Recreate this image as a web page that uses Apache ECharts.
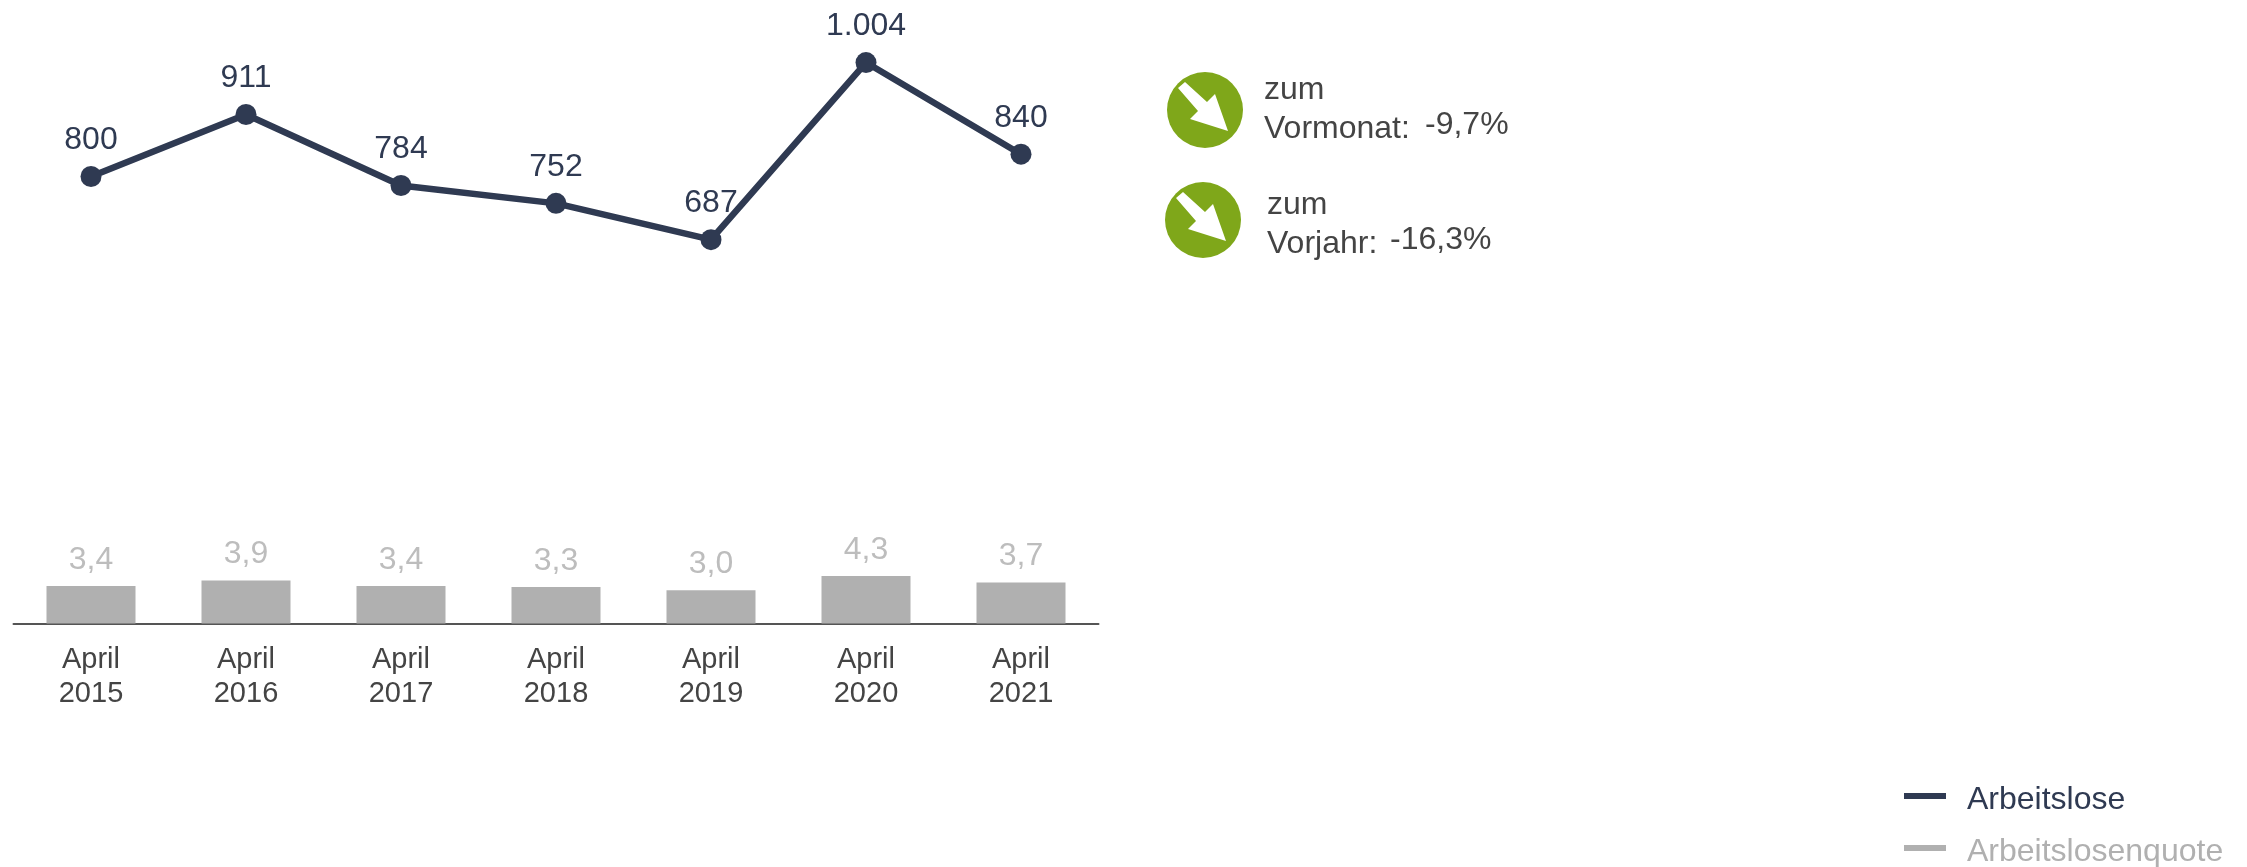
<!DOCTYPE html>
<html>
<head>
<meta charset="utf-8">
<style>
  html, body { margin: 0; padding: 0; background: #fff; }
  #chart { width: 2247px; height: 867px; }
</style>
<script src="https://cdn.jsdelivr.net/npm/echarts@6/dist/echarts.min.js"></script>
</head>
<body>
<div id="chart"></div>
<script>
// Chart data
const categories = ['April\n2015', 'April\n2016', 'April\n2017', 'April\n2018', 'April\n2019', 'April\n2020', 'April\n2021'];
const arbeitslose = [800, 911, 784, 752, 687, 1004, 840];
const arbeitslosenquote = [3.4, 3.9, 3.4, 3.3, 3.0, 4.3, 3.7];

const FONT = '"Liberation Sans", Arial, sans-serif';
const DARK = '#2f3a52';
const GREY = '#b0b0b0';
const GREEN = '#7fa71a';

// Format number the German way
function formatCount(value) {
    return value.toString().replace(/\B(?=(\d{3})+(?!\d))/g, '.');
}

// Green badge with a white arrow pointing down right
function badge(cx, cy) {
    return [
        { type: 'circle', shape: { cx: cx, cy: cy, r: 38 }, style: { fill: GREEN } },
        {
            type: 'polygon',
            x: cx,
            y: cy,
            shape: { points: [[-27, -22], [-20, -28], [2, -8], [10, -16], [23, 21], [-15, 9], [-7, 1]] },
            style: { fill: '#fff' }
        }
    ];
}

function note(x, y, text) {
    return {
        type: 'text',
        x: x,
        y: y,
        style: { text: text, font: '32px ' + FONT, fill: '#444444', verticalAlign: 'middle' }
    };
}

const chart = echarts.init(document.getElementById('chart'));

chart.setOption({
    animation: false,
    backgroundColor: '#fff',
    textStyle: { fontFamily: FONT },
    grid: { left: 13.5, top: 0, width: 1085, height: 623.5, containLabel: false },
    legend: {
        orient: 'vertical',
        left: 1904,
        top: 776,
        height: 140,
        icon: 'rect',
        itemWidth: 42,
        itemHeight: 6,
        itemGap: 12,
        padding: 0,
        data: [
            { name: 'Arbeitslose', textStyle: { color: DARK } },
            { name: 'Arbeitslosenquote', textStyle: { color: GREY } }
        ],
        formatter: name => '{t|' + name + '}',
        textStyle: {
            fontSize: 32,
            fontFamily: FONT,
            padding: [0, 0, 0, 16],
            // push the legend text a little below its key line
            rich: { t: { fontSize: 32, fontFamily: FONT, padding: [8, 0, 0, 0], lineHeight: 28 } }
        }
    },
    xAxis: {
        type: 'category',
        data: categories,
        axisTick: { show: false },
        axisLine: { lineStyle: { color: '#555555', width: 2 } },
        axisLabel: { fontSize: 29, lineHeight: 34, color: '#444444', margin: 19.5, fontFamily: FONT, interval: 0 }
    },
    yAxis: [
        { type: 'value', min: 0, max: 1116, show: false },
        { type: 'value', min: 0, max: 56.4, show: false }
    ],
    series: [
        {
            name: 'Arbeitslosenquote',
            type: 'bar',
            yAxisIndex: 1,
            data: arbeitslosenquote,
            barWidth: 89,
            itemStyle: { color: GREY },
            label: {
                show: true,
                position: 'top',
                distance: 10,
                fontSize: 32,
                color: '#bdbdbd',
                fontFamily: FONT,
                formatter: p => p.value.toFixed(1).replace('.', ',')
            }
        },
        {
            name: 'Arbeitslose',
            type: 'line',
            yAxisIndex: 0,
            data: arbeitslose,
            symbol: 'circle',
            symbolSize: 21,
            lineStyle: { color: DARK, width: 6.5 },
            itemStyle: { color: DARK },
            label: {
                show: true,
                position: 'top',
                distance: 10,
                fontSize: 32,
                color: DARK,
                fontFamily: FONT,
                formatter: p => formatCount(p.value)
            }
        }
    ],
    graphic: [
        ...badge(1205, 110),
        note(1264, 90, 'zum'),
        note(1264, 129, 'Vormonat:'),
        note(1425, 125, '-9,7%'),
        ...badge(1203, 220),
        note(1267, 205, 'zum'),
        note(1267, 244, 'Vorjahr:'),
        note(1390, 240, '-16,3%')
    ]
});

// Resize chart on window resize
window.addEventListener('resize', () => chart.resize());
</script>
</body>
</html>
